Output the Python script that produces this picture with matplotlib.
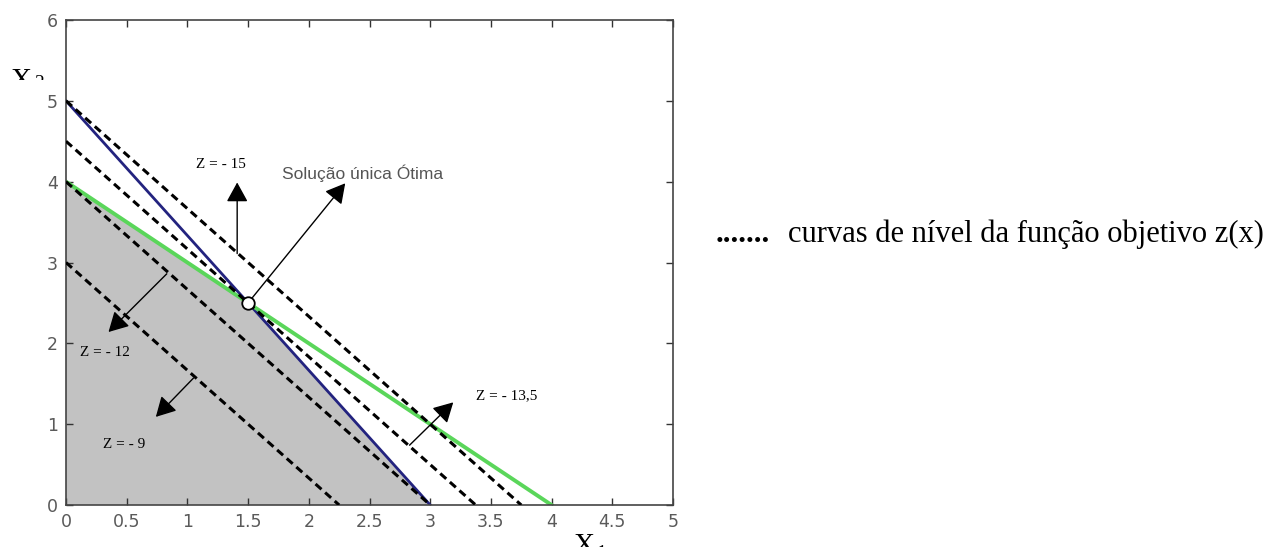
import numpy as np
import matplotlib.pyplot as plt
from matplotlib.transforms import Bbox, TransformedBbox

# restrições a1*x1 + a2*x2 <= b
restr_azul = [5, 3, 15]
restr_verde = [1, 1, 4]

# função objetivo z = -(4*x1 + 3*x2), curvas de nível
coef_obj = [4, 3]
niveis_z = [9, 12, 13.5, 15]

# região viável e ponto ótimo
regiao_x1 = [0, 3, 1.5, 0]
regiao_x2 = [0, 0, 2.5, 4]
otimo = [1.5, 2.5]

# setas (início -> ponta)
seta_x0 = [1.41, 0.83, 1.05, 2.83, 1.5]
seta_y0 = [3.11, 2.86, 1.57, 0.74, 2.5]
seta_x1 = [1.41, 0.35, 0.74, 3.19, 2.30]
seta_y1 = [3.99, 2.14, 1.09, 1.27, 3.98]

rotulos = ["Z = - 15", "Z = - 12", "Z = - 9", "Z = - 13,5"]
rot_x = [1.28, 0.32, 0.48, 3.63]
rot_y = [4.21, 1.89, 0.75, 1.35]

W, H = 1278, 547
fig = plt.figure(figsize=(W / 100, H / 100), dpi=100)
ax = fig.add_axes([66 / W, 1 - 505 / H, (673 - 66) / W, (505 - 20) / H])

serif = ["Liberation Serif", "DejaVu Serif"]
cinza = "#5a5a5a"

# região viável
ax.fill(regiao_x1, regiao_x2, color="#c2c2c2", zorder=1)

# curvas de nível (tracejadas)
for z in niveis_z:
    xs = [0, z / coef_obj[0]]
    ys = [z / coef_obj[1], 0]
    ax.plot(xs, ys, color="black", lw=2.2, ls=(0, (2.6, 1.6)), zorder=3)

# restrições
for (a1, a2, b), cor, lw in [(restr_azul, "#23237f", 2.0), (restr_verde, "#5ad65a", 2.8)]:
    ax.plot([0, b / a1], [b / a2, 0], color=cor, lw=lw, zorder=2)

ax.plot(otimo[0], otimo[1], "o", ms=9, mfc="white", mec="black", mew=1.3, zorder=5)

for x0, y0, x1, y1 in zip(seta_x0, seta_y0, seta_x1, seta_y1):
    ax.annotate("", xy=(x1, y1), xytext=(x0, y0),
                arrowprops=dict(arrowstyle="-|>,head_length=0.4,head_width=0.22",
                                mutation_scale=30, lw=1, color="black",
                                shrinkA=0, shrinkB=0), zorder=4)

for t, x, y in zip(rotulos, rot_x, rot_y):
    ax.text(x, y, t, family=serif, fontsize=11, ha="center", va="center", zorder=6)

ax.text(2.44, 4.11, "Solução única Ótima", fontsize=12.5, color="#555555",
        family=["Liberation Sans", "DejaVu Sans"], ha="center", va="center")

ax.set_xlim(0, 5)
ax.set_ylim(0, 6)
ax.set_xticks(np.arange(0, 5.01, 0.5))
ax.set_xticklabels(["0", "0.5", "1", "1.5", "2", "2.5", "3", "3.5", "4", "4.5", "5"])
ax.set_yticks(range(7))
ax.tick_params(direction="in", length=5, width=1, top=True, right=True,
               labelsize=12.5, labelcolor=cinza, color="#333333", pad=6)
for s in ax.spines.values():
    s.set_color("#444444")
    s.set_linewidth(1.2)

# rótulos dos eixos (cortados como no original)
clip = TransformedBbox(Bbox([[0, 1 - 80 / H], [0.1, 1]]), fig.transFigure)
tx = fig.text(10 / W, 1 - 88 / H, "X", family=serif, fontsize=21, va="baseline")
t2 = fig.text(34 / W, 1 - 88 / H, "2", family=serif, fontsize=14, va="baseline")
for t in (tx, t2):
    t.set_clip_box(clip)
    t.set_clip_on(True)
fig.text(573 / W, 1 - 553 / H, "X", family=serif, fontsize=21, va="baseline")
fig.text(596 / W, 1 - 558 / H, "1", family=serif, fontsize=14, va="baseline")

# legenda
fig.text(716 / W, 1 - 242 / H, ".......", family=serif, fontsize=22,
         fontweight="bold", va="baseline")
fig.text(788 / W, 1 - 242 / H, "curvas de nível da função objetivo z(x)",
         family=serif, fontsize=22, va="baseline")

fig.savefig("out.png", dpi=100)
